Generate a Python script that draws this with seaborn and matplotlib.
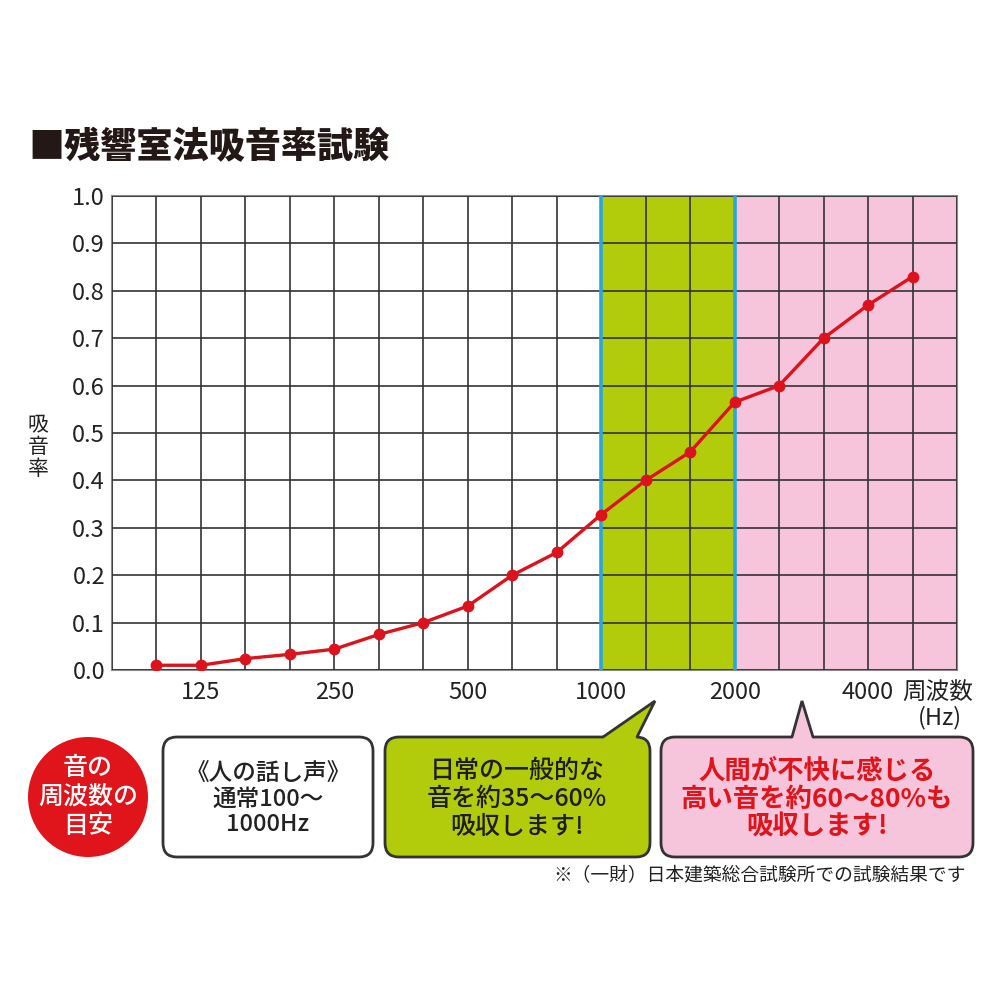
import numpy as np
import pandas as pd
import matplotlib
matplotlib.use("Agg")
import matplotlib.pyplot as plt
import seaborn as sns
from matplotlib.patches import FancyBboxPatch, Polygon, Circle

# 1/3 octave band centre frequencies and measured absorption coefficient
freqs = [100, 125, 160, 200, 250, 315, 400, 500, 630, 800,
         1000, 1250, 1600, 2000, 2500, 3150, 4000, 5000]
absorption = [0.01, 0.01, 0.024, 0.033, 0.044, 0.075, 0.10, 0.135, 0.20, 0.248,
              0.328, 0.40, 0.46, 0.565, 0.60, 0.70, 0.77, 0.83]
labelled_freqs = [125, 250, 500, 1000, 2000, 4000]
y_ticks = [0.0, 0.1, 0.2, 0.3, 0.4, 0.5, 0.6, 0.7, 0.8, 0.9, 1.0]
green_band = (1000, 2000)
pink_band_start = 2000

title = "■残響室法吸音率試験"
y_label = "吸\n音\n率"
x_label = "周波数"
x_unit = "(Hz)"
badge_text = "音の\n周波数の\n目安"
voice_text = "《人の話し声》\n通常100～\n1000Hz"
green_text = "日常の一般的な\n音を約35～60%\n吸収します!"
pink_text = "人間が不快に感じる\n高い音を約60～80%も\n吸収します!"
note_text = "※（一財）日本建築総合試験所での試験結果です"

sns.set_theme(style="white")
plt.rcParams['font.family'] = ['Noto Sans CJK JP', 'DejaVu Sans']

df = pd.DataFrame({"idx": np.arange(len(freqs)), "freq": freqs, "alpha": absorption})
pos = {f: i for i, f in enumerate(freqs)}

fig = plt.figure(figsize=(10, 10), dpi=100)
ax = fig.add_axes([0.112, 0.330, 0.845, 0.474])

# coloured frequency ranges
ax.axvspan(pos[green_band[0]], pos[green_band[1]], color="#b2cc0c", zorder=0, lw=0)
ax.axvspan(pos[pink_band_start], len(freqs), color="#f6c5db", zorder=0, lw=0)

sns.lineplot(data=df, x="idx", y="alpha", ax=ax, color="#dc121c", lw=2.4,
             marker="o", markersize=8.5, markeredgewidth=0, zorder=5)

ax.axvline(pos[green_band[0]], color="#2aa7d6", lw=2.6, zorder=3)
ax.axvline(pos[green_band[1]], color="#2aa7d6", lw=2.6, zorder=3)

xt = list(range(-1, len(freqs) + 1))
xl = [str(freqs[i]) if 0 <= i < len(freqs) and freqs[i] in labelled_freqs else "" for i in xt]
ax.set_xticks(xt)
ax.set_xticklabels(xl, fontsize=17, color="#222")
ax.set_yticks(y_ticks)
ax.set_yticklabels([f"{v:.1f}" for v in y_ticks], fontsize=17, color="#222")
ax.set_xlim(-1, len(freqs))
ax.set_ylim(0, 1)
ax.tick_params(length=0, pad=8)
ax.tick_params(axis="y", pad=5)
ax.grid(True, color="#333333", lw=1.2, zorder=1)
ax.set_axisbelow(False)
for s in ax.spines.values():
    s.set_color("#888")
    s.set_linewidth(1.5)
ax.set_xlabel("")
ax.set_ylabel("")
ax.lines[0].set_zorder(5)

# overlay in pixel coordinates for the annotations
ov = fig.add_axes([0, 0, 1, 1])
ov.set_xlim(0, 1000)
ov.set_ylim(1000, 0)
ov.axis("off")
ov.patch.set_visible(False)

ov.text(28, 147, title, fontsize=26, fontweight="black", va="center", ha="left", color="#231815")
ov.text(38, 447, y_label, fontsize=15, va="center", ha="center", linespacing=1.0, color="#222")
ov.text(902, 693, x_label, fontsize=17, va="center", ha="left", color="#222")
ov.text(962, 718, x_unit, fontsize=17, va="center", ha="right", color="#222")


def callout(x0, y0, x1, y1, face, edge, ptr=None):
    box = FancyBboxPatch((x0, y0), x1 - x0, y1 - y0,
                         boxstyle="round,pad=0,rounding_size=14",
                         fc=face, ec=edge, lw=2, zorder=2)
    ov.add_patch(box)
    if ptr:
        bl, tip, br = ptr
        ov.add_patch(Polygon([(bl[0], bl[1] + 3), bl, tip, br, (br[0], br[1] + 3)],
                             closed=True, fc=face, ec="none", zorder=3))
        ov.plot([bl[0], tip[0], br[0]], [bl[1], tip[1], br[1]], color=edge, lw=2,
                zorder=4, solid_joinstyle="miter")


ov.add_patch(Circle((88, 797), 60, fc="#e0141b", ec="none", zorder=2))
ov.text(88, 797, badge_text, fontsize=18, color="white", fontweight="medium",
        ha="center", va="center", linespacing=1.15, zorder=5)

callout(163, 737, 373, 857, "white", "#333")
ov.text(268, 799, voice_text, fontsize=17, color="#222", fontweight="medium",
        ha="center", va="center", linespacing=1.12, zorder=5)

callout(385, 737, 650, 857, "#b2cc0c", "#333",
        ptr=[(603, 737), (655, 701), (637, 737)])
ov.text(517, 799, green_text, fontsize=18, color="#1e1e1e", fontweight="medium",
        ha="center", va="center", linespacing=1.08, zorder=5)

callout(661, 737, 973, 857, "#f6c5db", "#333",
        ptr=[(792, 737), (802, 701), (813, 737)])
ov.text(817, 799, pink_text, fontsize=19, color="#e0141b", fontweight="bold",
        ha="center", va="center", linespacing=1.05, zorder=5)

ov.text(966, 876, note_text, fontsize=13.5, color="#222", ha="right", va="center")

fig.savefig("out.png", dpi=100)
